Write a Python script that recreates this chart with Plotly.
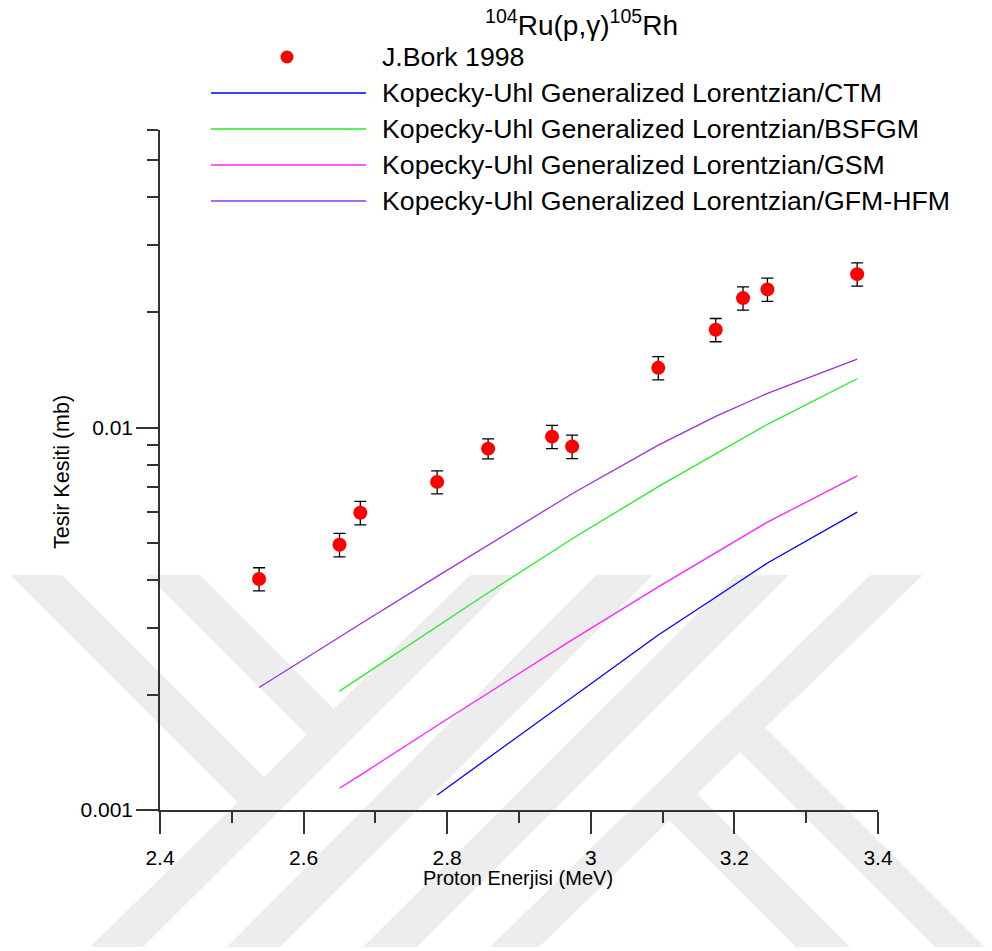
import plotly.graph_objects as go

# ---- data -------------------------------------------------------------
energy = [2.538, 2.650, 2.679, 2.786, 2.857, 2.946, 2.974, 3.094, 3.174, 3.212, 3.246, 3.371]
bork_xs = [4.02e-3, 4.94e-3, 5.99e-3, 7.21e-3, 8.81e-3, 9.47e-3, 8.93e-3,
           1.433e-2, 1.803e-2, 2.181e-2, 2.298e-2, 2.519e-2]
bork_err = [0.00028, 0.00035, 0.00042, 0.00050, 0.00053, 0.00066, 0.00063,
            0.00100, 0.00126, 0.00153, 0.00161, 0.00176]

e_gfm = energy
xs_gfm = [2.090e-3, 2.836e-3, 3.064e-3, 4.083e-3, 4.937e-3, 6.237e-3, 6.714e-3,
          9.00e-3, 1.070e-2, 1.152e-2, 1.229e-2, 1.511e-2]

e_bsfgm = energy[1:]
xs_bsfgm = [2.046e-3, 2.222e-3, 3.020e-3, 3.701e-3, 4.735e-3, 5.119e-3,
            7.008e-3, 8.541e-3, 9.382e-3, 1.020e-2, 1.342e-2]

e_gsm = energy[1:]
xs_gsm = [1.140e-3, 1.234e-3, 1.663e-3, 2.022e-3, 2.576e-3, 2.786e-3,
          3.833e-3, 4.707e-3, 5.190e-3, 5.661e-3, 7.474e-3]

e_ctm = energy[3:]
xs_ctm = [1.095e-3, 1.367e-3, 1.803e-3, 1.971e-3, 2.867e-3, 3.602e-3,
          4.015e-3, 4.424e-3, 6.010e-3]

series_names = [
    "J.Bork 1998",
    "Kopecky-Uhl Generalized Lorentzian/CTM",
    "Kopecky-Uhl Generalized Lorentzian/BSFGM",
    "Kopecky-Uhl Generalized Lorentzian/GSM",
    "Kopecky-Uhl Generalized Lorentzian/GFM-HFM",
]
x_tick_vals = [2.4, 2.6, 2.8, 3.0, 3.2, 3.4]
x_tick_text = ["2.4", "2.6", "2.8", "3", "3.2", "3.4"]
x_minor_vals = [2.5, 2.7, 2.9, 3.1, 3.3]
y_tick_vals = [0.001, 0.01]
y_tick_text = ["0.001", "0.01"]
y_minor_vals = [0.002, 0.003, 0.004, 0.005, 0.006, 0.007, 0.008, 0.009,
                0.02, 0.03, 0.04, 0.05, 0.06]

# ---- page geometry ----------------------------------------------------
W, H = 992, 951
L, R, T, B = 160, 878, 130, 810
FONT = "Liberation Sans, Arial, sans-serif"
AXIS_COLOR = "#333333"
line_colors = ["#0000ff", "#22ee22", "#ff22ff", "#9b30e0"]


def px(x):
    return (x - L) / (R - L)


def py(y):
    return (B - y) / (B - T)


fig = go.Figure()

curves = [(e_ctm, xs_ctm), (e_bsfgm, xs_bsfgm), (e_gsm, xs_gsm), (e_gfm, xs_gfm)]
for (ex, ys), name, col in zip(curves, series_names[1:], line_colors):
    fig.add_trace(go.Scatter(x=ex, y=ys, mode="lines", name=name,
                             line=dict(color=col, width=1.3), showlegend=False))

fig.add_trace(go.Scatter(
    x=energy, y=bork_xs, mode="markers", name=series_names[0], showlegend=False,
    marker=dict(color="#ff0000", size=14, line=dict(width=0)),
    error_y=dict(type="data", array=bork_err, visible=True,
                 color="#000000", thickness=1.3, width=6),
))

# ---- background emblem (light grey bands) -------------------------------
emblem = [
    [(90, 947), (143, 947), (516, 575), (470, 575)],
    [(227, 947), (280, 947), (653, 575), (596, 575)],
    [(10, 575), (62, 575), (275, 788), (250, 815)],
    [(147, 575), (200, 575), (345, 720), (320, 748)],
    [(363, 947), (417, 947), (789, 575), (736, 575)],
    [(490, 947), (539, 947), (923, 575), (870, 575)],
    [(725, 737), (745, 707), (985, 947), (935, 947)],
    [(655, 806), (680, 777), (850, 947), (796, 947)],
]
shapes = []
for poly in emblem:
    path = "M " + " L ".join(f"{px(a):.4f},{py(b):.4f}" for a, b in poly) + " Z"
    shapes.append(dict(type="path", xref="paper", yref="paper", path=path,
                       fillcolor="#ededed", line=dict(width=0), layer="below"))

# ---- legend drawn by hand --------------------------------------------
legend_rows = [57, 93, 129, 165, 201]
shapes.append(dict(type="circle", xref="paper", yref="paper",
                   x0=px(280.5), x1=px(293.5), y0=py(63.5), y1=py(50.5),
                   fillcolor="#ff0000", line=dict(width=0)))
for yrow, col in zip(legend_rows[1:], line_colors):
    shapes.append(dict(type="line", xref="paper", yref="paper",
                       x0=px(211), x1=px(366), y0=py(yrow), y1=py(yrow),
                       line=dict(color=col, width=1.3)))

annotations = []
for yrow, name in zip(legend_rows, series_names):
    annotations.append(dict(xref="paper", yref="paper", x=px(380), y=py(yrow),
                            xanchor="left", yanchor="middle", showarrow=False,
                            text=name, font=dict(size=26.7, color="#000000")))

annotations.append(dict(xref="paper", yref="paper", x=px(581), y=py(23),
                        xanchor="center", yanchor="middle", showarrow=False,
                        text="<sup>104</sup>Ru(p,γ)<sup>105</sup>Rh",
                        font=dict(size=28, color="#000000")))
annotations.append(dict(xref="paper", yref="paper", x=px(62), y=py(472),
                        xanchor="center", yanchor="middle", showarrow=False,
                        textangle=-90, text="Tesir Kesiti (mb)",
                        font=dict(size=21.5, color="#000000")))
annotations.append(dict(xref="paper", yref="paper", x=px(518), y=py(878),
                        xanchor="center", yanchor="middle", showarrow=False,
                        text="Proton Enerjisi (MeV)",
                        font=dict(size=20, color="#000000")))

fig.update_layout(
    width=W, height=H,
    margin=dict(l=L, r=W - R, t=T, b=H - B, pad=0),
    paper_bgcolor="white", plot_bgcolor="rgba(0,0,0,0)",
    font=dict(family=FONT, color="#000000"),
    showlegend=False,
    shapes=shapes, annotations=annotations,
    xaxis=dict(
        range=[2.4, 3.4], showgrid=False, zeroline=False,
        showline=True, linecolor=AXIS_COLOR, linewidth=1.5,
        tickmode="array", tickvals=x_tick_vals, ticktext=x_tick_text,
        ticks="outside", ticklen=22, tickwidth=1.5, tickcolor=AXIS_COLOR,
        ticklabelstandoff=6,
        tickfont=dict(size=21, color="#000000"),
        minor=dict(tickmode="array", tickvals=x_minor_vals, ticks="outside",
                   ticklen=11, tickwidth=1.5, tickcolor=AXIS_COLOR, showgrid=False),
    ),
    yaxis=dict(
        type="log", range=[-3, -1.2218], showgrid=False, zeroline=False,
        showline=True, linecolor=AXIS_COLOR, linewidth=1.5,
        tickmode="array", tickvals=y_tick_vals, ticktext=y_tick_text,
        ticks="outside", ticklen=22, tickwidth=1.5, tickcolor=AXIS_COLOR,
        ticklabelstandoff=-1,
        tickfont=dict(size=21, color="#000000"),
        minor=dict(tickmode="array", tickvals=y_minor_vals, ticks="outside",
                   ticklen=11, tickwidth=1.5, tickcolor=AXIS_COLOR, showgrid=False),
    ),
)

fig.write_html("out.html")
